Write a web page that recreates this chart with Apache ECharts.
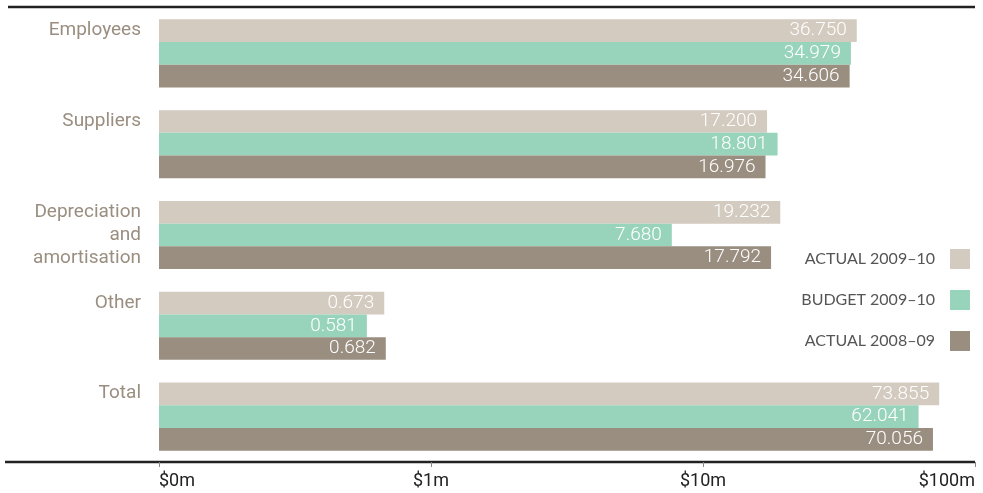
<!DOCTYPE html>
<html><head><meta charset="utf-8">
<script src="https://cdn.jsdelivr.net/npm/echarts@6/dist/echarts.min.js"></script>
<style>html,body{margin:0;padding:0;background:#fff}#c{width:983px;height:493px}</style>
</head><body><div id="c"></div>
<script>
var categories = ['Employees', 'Suppliers', 'Depreciation\nand\namortisation', 'Other', 'Total'];
var actual2010 = [36.750, 17.200, 19.232, 0.673, 73.855];
var budget2010 = [34.979, 18.801, 7.680, 0.581, 62.041];
var actual2009 = [34.606, 16.976, 17.792, 0.682, 70.056];
var seriesNames = ['ACTUAL 2009–10', 'BUDGET 2009–10', 'ACTUAL 2008–09'];
var tickLabels = {'-1': '$0m', '0': '$1m', '1': '$10m', '2': '$100m'};
var colors = ['#d3cac0', '#98d4bc', '#9a8e80'];

var chart = echarts.init(document.getElementById('c'));
function mk(name, data, color) {
  return {
    name: name, type: 'bar', data: data, barGap: '0%', barCategoryGap: '25%',
    itemStyle: {color: color},
    label: {show: true, position: 'insideRight', color: '#fff', fontFamily: 'Roboto', fontWeight: 300, fontSize: 19,
      distance: 10, formatter: function (p) { return p.value.toFixed(3); }}
  };
}
chart.setOption({
  animation: false,
  color: colors,
  grid: {left: 159, right: 8, top: 8, bottom: 31, containLabel: false, outerBoundsMode: 'none'},
  legend: {
    orient: 'vertical', right: 8, top: 244, align: 'right', itemWidth: 20, itemHeight: 20, itemGap: 21,
    icon: 'rect', data: seriesNames,
    textStyle: {fontFamily: 'Lato', fontSize: 16, color: '#555', padding: [0, 10, 0, 0]}
  },
  xAxis: {
    type: 'log', min: 0.1, max: 100, logBase: 10, startValue: 0.1,
    axisLine: {show: false},
    axisTick: {show: true, length: 5, lineStyle: {color: '#888'}},
    splitLine: {show: false},
    axisLabel: {fontFamily: 'Roboto', fontSize: 18, color: '#222', margin: 10,
      alignMinLabel: 'left', alignMaxLabel: 'right',
      formatter: function (v) { return tickLabels[String(Math.round(Math.log10(v)))]; }}
  },
  yAxis: {
    type: 'category', data: categories.map(function (c) { var n = c.split('\n').length; return n === 1 ? c + '\n\n' : c; }),
    inverse: true,
    axisLine: {show: false}, axisTick: {show: false},
    axisLabel: {fontFamily: 'Roboto', fontSize: 19, color: '#9a8e80', margin: 18,
      lineHeight: 23, verticalAlign: 'middle', formatter: function (v) { return v; }}
  },
  series: [mk(seriesNames[0], actual2010, colors[0]), mk(seriesNames[1], budget2010, colors[1]), mk(seriesNames[2], actual2009, colors[2])],
  graphic: [
    {type: 'line', shape: {x1: 8, y1: 7, x2: 975, y2: 7}, style: {stroke: '#222', lineWidth: 2.5}},
    {type: 'line', shape: {x1: 5, y1: 462, x2: 975, y2: 462}, style: {stroke: '#222', lineWidth: 2.5}}
  ]
});
</script></body></html>
